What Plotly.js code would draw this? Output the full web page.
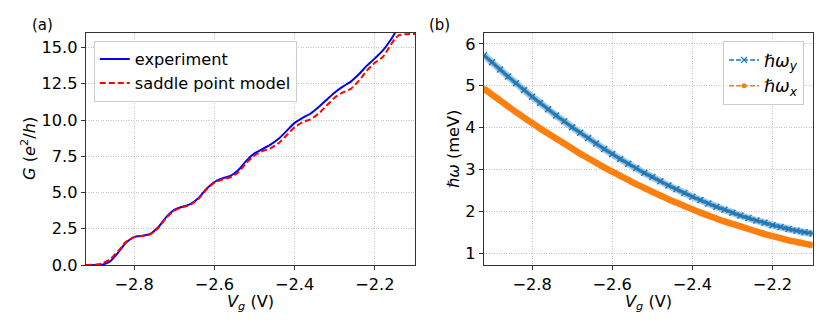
<!DOCTYPE html>
<html>
<head>
<meta charset="utf-8">
<script src="https://cdn.plot.ly/plotly-3.0.1.min.js"></script>
<style>html,body{margin:0;padding:0;background:#fff;}#chart{width:830px;height:332px;}</style>
</head>
<body>
<div id="chart"></div>
<script>
// Panel (a): conductance vs gate voltage
const vgA = [-2.92,-2.90,-2.88,-2.86,-2.84,-2.82,-2.80,-2.78,-2.76,-2.74,-2.72,-2.70,-2.68,-2.66,-2.64,-2.62,-2.60,-2.58,-2.56,-2.54,-2.52,-2.50,-2.48,-2.46,-2.44,-2.42,-2.40,-2.38,-2.36,-2.34,-2.32,-2.30,-2.28,-2.26,-2.24,-2.22,-2.20,-2.18,-2.16,-2.15,-2.14];
const gExperiment = [0,0,0.02,0.25,0.85,1.55,1.92,2.02,2.15,2.6,3.3,3.8,4.02,4.2,4.6,5.25,5.72,5.97,6.15,6.55,7.2,7.7,8.0,8.3,8.7,9.25,9.8,10.15,10.45,10.9,11.4,11.9,12.3,12.65,13.15,13.75,14.25,14.8,15.55,16.0,16.4];
const vgModel = [-2.92,-2.90,-2.88,-2.86,-2.84,-2.82,-2.80,-2.78,-2.76,-2.74,-2.72,-2.70,-2.68,-2.66,-2.64,-2.62,-2.60,-2.58,-2.56,-2.54,-2.52,-2.50,-2.48,-2.46,-2.44,-2.42,-2.40,-2.38,-2.36,-2.34,-2.32,-2.30,-2.28,-2.26,-2.24,-2.22,-2.20,-2.18,-2.16,-2.15,-2.14,-2.12,-2.10];
const gModel = [0,0.02,0.1,0.4,0.95,1.6,1.92,2.0,2.12,2.55,3.25,3.75,3.98,4.15,4.55,5.2,5.68,5.9,6.05,6.4,7.05,7.55,7.85,8.05,8.4,8.95,9.5,9.85,10.05,10.45,11.0,11.55,11.9,12.15,12.7,13.4,13.95,14.35,15.2,15.6,15.85,15.92,15.93];

// Panel (b): confinement energies
const vgB = [-2.92,-2.90,-2.88,-2.86,-2.84,-2.82,-2.80,-2.78,-2.76,-2.74,-2.72,-2.70,-2.68,-2.66,-2.64,-2.62,-2.60,-2.58,-2.56,-2.54,-2.52,-2.50,-2.48,-2.46,-2.44,-2.42,-2.40,-2.38,-2.36,-2.34,-2.32,-2.30,-2.28,-2.26,-2.24,-2.22,-2.20,-2.18,-2.16,-2.14,-2.12,-2.10];
const hwY = [5.73,5.56,5.39,5.22,5.06,4.90,4.74,4.59,4.44,4.29,4.15,4.01,3.88,3.75,3.62,3.49,3.37,3.25,3.14,3.03,2.92,2.82,2.72,2.62,2.53,2.44,2.35,2.27,2.19,2.11,2.04,1.97,1.90,1.84,1.78,1.73,1.67,1.63,1.58,1.54,1.50,1.47];
const hwX = [4.93,4.79,4.65,4.51,4.37,4.24,4.11,3.98,3.86,3.74,3.62,3.50,3.38,3.27,3.16,3.05,2.95,2.85,2.75,2.65,2.56,2.47,2.38,2.29,2.21,2.13,2.05,1.97,1.90,1.83,1.76,1.70,1.64,1.58,1.52,1.46,1.41,1.36,1.31,1.27,1.23,1.19];

const xTicks = [-2.8,-2.6,-2.4,-2.2];
const yTicksA = [0,2.5,5,7.5,10,12.5,15];
const yTicksB = [1,2,3,4,5,6];

const FONT = 'DejaVu Sans, sans-serif';
const FS = 16.2;

const traces = [
  {x: vgA, y: gExperiment, xaxis:'x', yaxis:'y', mode:'lines', name:'experiment',
   line:{color:'#0000ff', width:2, shape:'spline', smoothing:0.6}, legend:'legend'},
  {x: vgModel, y: gModel, xaxis:'x', yaxis:'y', mode:'lines', name:'saddle point model',
   line:{color:'#ff0000', width:2, dash:'6px,3px', shape:'spline', smoothing:0.6}, legend:'legend'},
  // thick bands formed by the dense markers
  {x: vgB, y: hwY, xaxis:'x2', yaxis:'y2', mode:'lines', showlegend:false, hoverinfo:'skip',
   line:{color:'#a3c8e4', width:7, shape:'spline'}},
  {x: vgB, y: hwY, xaxis:'x2', yaxis:'y2', mode:'lines', showlegend:false, hoverinfo:'skip',
   line:{color:'#3582bb', width:3.5, shape:'spline'}},
  {x: vgB, y: hwX, xaxis:'x2', yaxis:'y2', mode:'lines', showlegend:false, hoverinfo:'skip',
   line:{color:'#ff7f0e', width:6.5, shape:'spline'}},
  {x: vgB, y: hwY, xaxis:'x2', yaxis:'y2', mode:'lines+markers', name:'<i>ℏω<sub>y</sub></i>',
   line:{color:'#1f77b4', width:1.5, dash:'5px,2px'}, marker:{symbol:'x-thin', size:6, color:'#1f77b4', line:{color:'#1f77b4', width:1.4}}, legend:'legend2'},
  {x: vgB, y: hwX, xaxis:'x2', yaxis:'y2', mode:'lines+markers', name:'<i>ℏω<sub>x</sub></i>',
   line:{color:'#ff7f0e', width:1.5, dash:'5px,2px'}, marker:{symbol:'circle', size:5, color:'#ff7f0e'}, legend:'legend2'}
];

const axisCommon = {
  showline:true, mirror:true, linecolor:'#333333', linewidth:1.2,
  ticks:'outside', ticklen:4, tickwidth:1, tickcolor:'#333333',
  showgrid:true, gridcolor:'#b8b8b8', griddash:'1px,1.5px', gridwidth:0.8,
  zeroline:false, tickfont:{family:FONT, size:FS, color:'#000'}
};

const xLabels = xTicks.map(v=>'\u2212'+Math.abs(v).toFixed(1));

const layout = {
  width:830, height:332,
  margin:{l:0, r:0, t:0, b:0},
  paper_bgcolor:'#fff', plot_bgcolor:'#fff',
  font:{family:FONT, size:FS, color:'#000'},
  xaxis: Object.assign({}, axisCommon, {domain:[0.1036,0.5], range:[-2.92,-2.1], tickvals:xTicks, ticktext:xLabels, anchor:'y'}),
  yaxis: Object.assign({}, axisCommon, {domain:[0.2018,0.9006], range:[0,16], tickvals:yTicksA, tickformat:'.1f', anchor:'x'}),
  xaxis2: Object.assign({}, axisCommon, {domain:[0.5831,0.979], range:[-2.92,-2.1], tickvals:xTicks, ticktext:xLabels, anchor:'y2'}),
  yaxis2: Object.assign({}, axisCommon, {domain:[0.2018,0.9006], range:[0.72,6.26], tickvals:yTicksB, anchor:'x2'}),
  legend:{x:0.113, y:0.8765, xanchor:'left', yanchor:'top', bgcolor:'rgba(255,255,255,0.85)',
    bordercolor:'#cccccc', borderwidth:1, font:{family:FONT, size:FS, color:'#000'}, tracegroupgap:0},
  legend2:{x:0.9687, y:0.8765, xanchor:'right', yanchor:'top', bgcolor:'rgba(255,255,255,0.85)',
    bordercolor:'#cccccc', borderwidth:1, font:{family:FONT, size:17.5, color:'#000'}},
  annotations:[
    {text:'(a)', x:42/830, y:1-25/332, xanchor:'center', yanchor:'middle', xref:'paper', yref:'paper', showarrow:false, font:{family:FONT, size:15}},
    {text:'(b)', x:439/830, y:1-25/332, xanchor:'center', yanchor:'middle', xref:'paper', yref:'paper', showarrow:false, font:{family:FONT, size:15}},
    {text:'<i>V<sub>g</sub></i> (V)', x:250.5/830, y:1-302/332, xanchor:'center', yanchor:'middle', xref:'paper', yref:'paper', showarrow:false, font:{family:FONT, size:FS}},
    {text:'<i>V<sub>g</sub></i> (V)', x:648/830, y:1-302/332, xanchor:'center', yanchor:'middle', xref:'paper', yref:'paper', showarrow:false, font:{family:FONT, size:FS}},
    {text:'<i>G</i> (<i>e</i><sup>2</sup>/<i>h</i>)', x:28/830, y:1-149/332, xanchor:'center', yanchor:'middle', xref:'paper', yref:'paper', showarrow:false, textangle:-90, font:{family:FONT, size:FS}},
    {text:'<i>ℏω</i> (meV)', x:453/830, y:1-149/332, xanchor:'center', yanchor:'middle', xref:'paper', yref:'paper', showarrow:false, textangle:-90, font:{family:FONT, size:FS}}
  ],
  showlegend:true
};

Plotly.newPlot('chart', traces, layout, {staticPlot:true, displayModeBar:false});
</script>
</body>
</html>
